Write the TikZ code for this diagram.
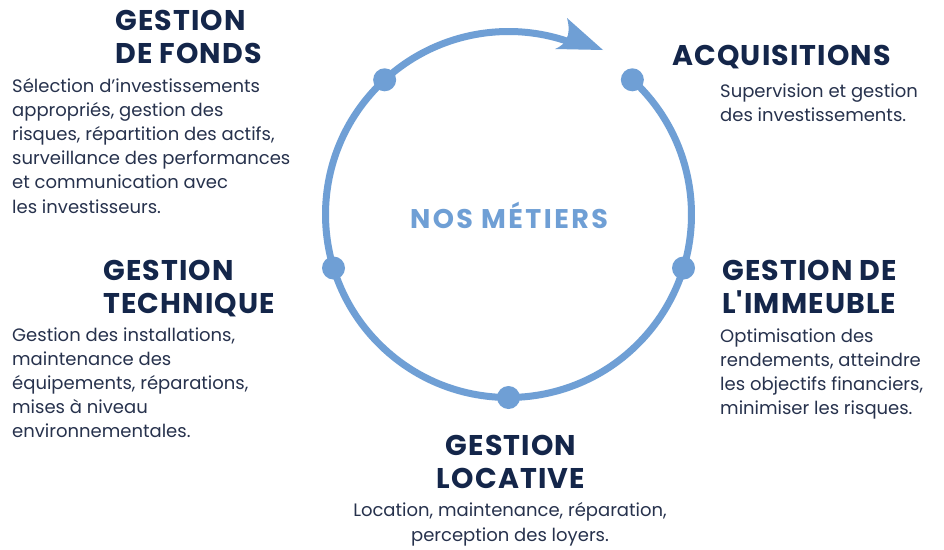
\documentclass[tikz,border=0pt]{standalone}
\usepackage{fontspec}
\usetikzlibrary{calc}
\setmainfont{Poppins}
\newfontfamily\titlefont{Poppins}[UprightFont=* Bold, LetterSpace=4]
\newfontfamily\centrefont{Poppins}[UprightFont=* Bold, LetterSpace=9]
\definecolor{ringblue}{HTML}{6F9FD5}
\definecolor{navy}{HTML}{14264A}
\definecolor{bodytxt}{HTML}{27324D}
\begin{document}
\begin{tikzpicture}[x=1pt,y=-1pt,
  ttl/.style={inner sep=0pt, text=navy, font={\titlefont\fontsize{28.5}{33}\selectfont}},
  bdy/.style={inner sep=0pt, text=bodytxt, font={\fontsize{18}{24.2}\selectfont}},
  ringdot/.style={circle, fill=ringblue, inner sep=0pt, minimum size=23pt},
  ring/.style={draw=ringblue, line width=7pt}]
\useasboundingbox (0,0) rectangle (944,549);
\fill[white] (0,0) rectangle (944,549);
\coordinate (c) at (508.5,214.5);
% ring with arrow
\draw[ring] (c) ++(-47.4:183) arc[start angle=-47.4, end angle=293, radius=183];
\fill[ringblue] (567,18) -- (603,50) -- (555,49) .. controls (565,45) and (572,36) .. (567,18) -- cycle;
% dots
\node[ringdot] (dfonds) at ($(c)+(-132.6:183)$) {};
\node[ringdot] (dacq) at ($(c)+(-47.4:183)$) {};
\node[ringdot] (dtech) at ($(c)+(163:183)$) {};
\node[ringdot] (dimm) at ($(c)+(17:183)$) {};
\node[ringdot] (dloc) at ($(c)+(90:183)$) {};
% centre
\node[inner sep=0pt, text=ringblue, font={\centrefont\fontsize{27}{30}\selectfont}, anchor=base] (centre) at (509,228) {NOS MÉTIERS};
% Gestion de fonds
\node[ttl, align=left, anchor=base west] (tfonds) at (115,63) {GESTION\\DE FONDS};
\node[bdy, align=left, anchor=base west] (bfonds) at (12,213) {Sélection d’investissements\\appropriés, gestion des\\risques, répartition des actifs,\\surveillance des performances\\et communication avec\\les investisseurs.};
% Acquisitions
\node[ttl, align=left, anchor=base west] (tacq) at (672,65) {ACQUISITIONS};
\node[bdy, align=left, anchor=base west] (bacq) at (720,121.2) {Supervision et gestion\\des investissements.};
% Gestion technique
\node[ttl, align=left, anchor=base west] (ttech) at (103,313) {GESTION\\TECHNIQUE};
\node[bdy, align=left, anchor=base west] (btech) at (12,437.8) {Gestion des installations,\\maintenance des\\équipements, réparations,\\mises à niveau\\environnementales.};
% Gestion de l'immeuble
\node[ttl, align=left, anchor=base west] (timm) at (722,313) {GESTION DE\\L\char39 IMMEUBLE};
\node[bdy, align=left, anchor=base west] (bimm) at (720,414.6) {Optimisation des\\rendements, atteindre\\les objectifs financiers,\\minimiser les risques.};
% Gestion locative
\node[ttl, align=center, anchor=base] (tloc) at (511,488) {GESTION\\LOCATIVE};
\node[bdy, align=center, anchor=base] (bloc) at (510,541) {Location, maintenance, réparation,\\perception des loyers.};
\end{tikzpicture}
\end{document}
